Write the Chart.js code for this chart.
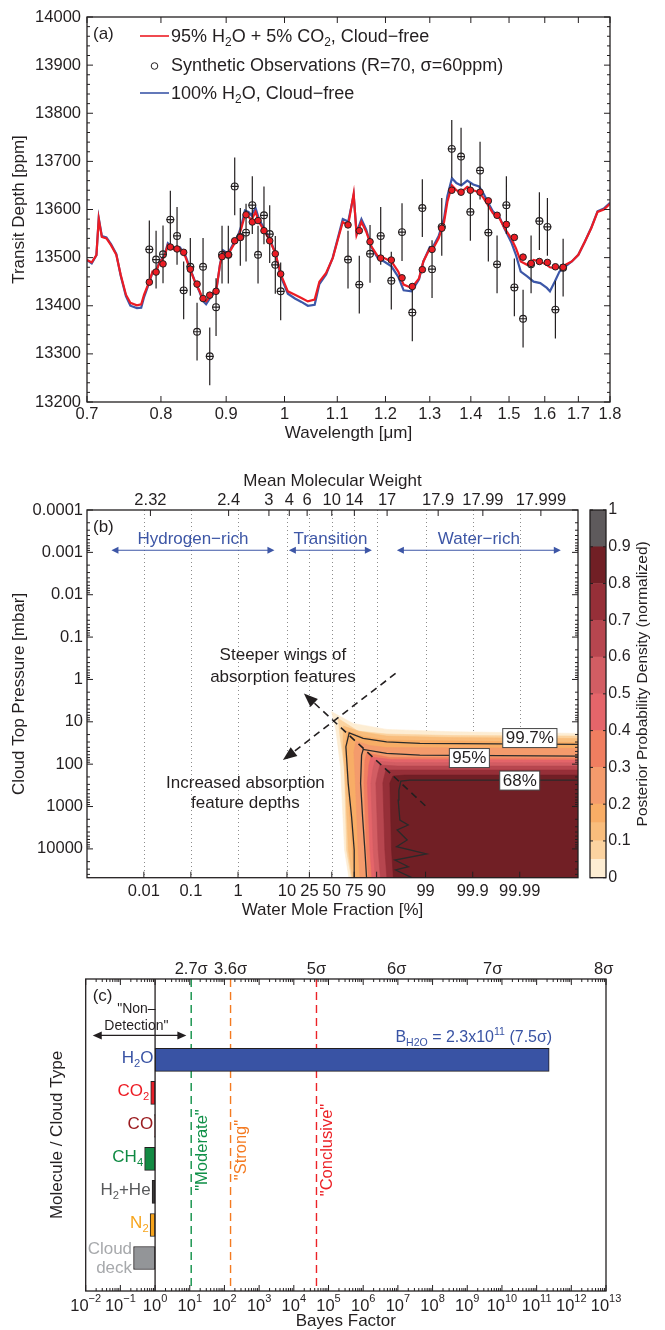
<!DOCTYPE html>
<html>
<head>
<meta charset="utf-8">
<script src="https://cdn.jsdelivr.net/npm/chart.js@4.4.1/dist/chart.umd.min.js"></script>
<style>
  html, body { margin: 0; padding: 0; background: #fff; }
  body { width: 665px; height: 1330px; position: relative; overflow: hidden; }
  .panel { position: absolute; }
</style>
</head>
<body>
<div class="panel" style="left:0;top:0"><canvas id="spectrum" width="665" height="450"></canvas></div>
<div class="panel" style="left:0;top:455px"><canvas id="posterior" width="665" height="470"></canvas></div>
<div class="panel" style="left:588px;top:455px"><canvas id="colorbar" width="77" height="470"></canvas></div>
<div class="panel" style="left:0;top:935px"><canvas id="bayes" width="665" height="395"></canvas></div>
<script>
// ---------- (a) transmission spectrum ----------
const waveTicks = [0.7, 0.8, 0.9, 1.0, 1.1, 1.2, 1.3, 1.4, 1.5, 1.6, 1.7, 1.8];
const waveLabels = ['0.7', '0.8', '0.9', '1', '1.1', '1.2', '1.3', '1.4', '1.5', '1.6', '1.7', '1.8'];
const depthTicks = [13200, 13300, 13400, 13500, 13600, 13700, 13800, 13900, 14000];

const modelWave = [0.700, 0.706, 0.712, 0.715, 0.719, 0.725, 0.731, 0.738, 0.744, 0.751, 0.757, 0.766, 0.772, 0.776, 0.783, 0.788, 0.793, 0.798, 0.805, 0.810, 0.814, 0.820, 0.828, 0.836, 0.843, 0.850, 0.858, 0.863, 0.868, 0.876, 0.884, 0.890, 0.895, 0.903, 0.912, 0.920, 0.925, 0.931, 0.937, 0.942, 0.949, 0.955, 0.964, 0.974, 0.984, 0.993, 1.006, 1.019, 1.031, 1.043, 1.056, 1.065, 1.078, 1.091, 1.101, 1.111, 1.122, 1.133, 1.139, 1.149, 1.159, 1.170, 1.184, 1.197, 1.213, 1.228, 1.240, 1.258, 1.275, 1.285, 1.300, 1.306, 1.321, 1.334, 1.342, 1.353, 1.364, 1.376, 1.391, 1.406, 1.421, 1.433, 1.444, 1.457, 1.475, 1.488, 1.506, 1.519, 1.532, 1.550, 1.568, 1.587, 1.606, 1.615, 1.629, 1.643, 1.661, 1.680, 1.700, 1.720, 1.740, 1.760, 1.780, 1.800];
const modelH2OCO2 = [13495, 13490, 13505, 13580, 13543, 13540, 13526, 13506, 13464, 13423, 13406, 13401, 13403, 13423, 13449, 13471, 13470, 13490, 13502, 13526, 13522, 13516, 13518, 13502, 13476, 13452, 13430, 13413, 13409, 13423, 13433, 13485, 13512, 13506, 13526, 13543, 13561, 13588, 13585, 13578, 13595, 13574, 13556, 13535, 13508, 13466, 13430, 13423, 13416, 13409, 13413, 13450, 13468, 13499, 13537, 13574, 13568, 13633, 13547, 13574, 13554, 13523, 13502, 13499, 13492, 13471, 13444, 13437, 13457, 13492, 13519, 13516, 13540, 13574, 13616, 13650, 13640, 13636, 13647, 13640, 13636, 13623, 13609, 13592, 13581, 13561, 13540, 13519, 13492, 13485, 13495, 13492, 13485, 13480, 13478, 13480, 13485, 13492, 13506, 13533, 13561, 13595, 13600, 13612];
const modelH2O = [13495, 13488, 13505, 13582, 13545, 13542, 13528, 13508, 13462, 13420, 13400, 13395, 13396, 13418, 13447, 13470, 13472, 13492, 13504, 13530, 13525, 13520, 13521, 13505, 13478, 13453, 13428, 13410, 13403, 13420, 13430, 13486, 13515, 13508, 13530, 13548, 13566, 13598, 13595, 13588, 13603, 13580, 13560, 13538, 13508, 13462, 13425, 13415, 13408, 13400, 13402, 13445, 13465, 13500, 13540, 13580, 13575, 13630, 13552, 13580, 13558, 13522, 13498, 13492, 13482, 13460, 13432, 13430, 13455, 13492, 13522, 13520, 13545, 13582, 13628, 13665, 13655, 13650, 13660, 13652, 13648, 13632, 13615, 13596, 13583, 13560, 13532, 13505, 13471, 13461, 13450, 13447, 13437, 13430, 13450, 13471, 13482, 13492, 13506, 13533, 13562, 13596, 13602, 13614];

const obsWave = [0.7834, 0.7930, 0.8030, 0.8137, 0.8236, 0.8335, 0.8436, 0.8539, 0.8632, 0.8737, 0.8837, 0.8933, 0.9035, 0.9140, 0.9233, 0.9329, 0.9435, 0.9533, 0.9636, 0.9736, 0.9835, 0.9931, 1.1215, 1.1446, 1.1670, 1.1897, 1.2127, 1.2364, 1.2596, 1.2826, 1.3053, 1.3284, 1.3526, 1.3755, 1.3988, 1.4235, 1.4450, 1.4679, 1.4928, 1.5145, 1.5385, 1.5609, 1.5845, 1.6076, 1.6310, 1.6539];
const obsDepth = [13517, 13496, 13507, 13579, 13545, 13432, 13481, 13346, 13481, 13295, 13397, 13506, 13506, 13648, 13543, 13552, 13609, 13506, 13588, 13549, 13485, 13430, 13496, 13444, 13508, 13545, 13452, 13553, 13386, 13603, 13476, 13564, 13726, 13710, 13595, 13681, 13552, 13486, 13609, 13438, 13373, 13486, 13576, 13564, 13392, 13479];
const binnedModel = [13449, 13470, 13487, 13522, 13518, 13511, 13476, 13445, 13415, 13422, 13430, 13502, 13506, 13535, 13542, 13589, 13574, 13577, 13556, 13535, 13508, 13466, 13568, 13556, 13533, 13499, 13495, 13458, 13440, 13475, 13517, 13561, 13640, 13636, 13640, 13636, 13618, 13588, 13569, 13542, 13501, 13488, 13492, 13490, 13481, 13480];
const obsSigma = 60;
const resolvingPower = 70;

// ---------- (b) posterior ----------
const waterTicks = [0.01, 0.1, 1, 10, 25, 50, 75, 90, 99, 99.9, 99.99];
const mmwTicks = [2.32, 2.4, 3, 4, 6, 10, 14, 17, 17.9, 17.99, 17.999];
// where each mean-molecular-weight label sits, as log10(H2O/(H2+He))
const mmwTickPos = [-3.86, -2.196, -1.338, -0.905, -0.525, 0.0, 0.48, 1.177, 2.264, 3.215, 4.45];
const pressureTicks = [0.0001, 0.001, 0.01, 0.1, 1, 10, 100, 1000, 10000];
const densityLevels = [0, 0.05, 0.1, 0.15, 0.2, 0.3, 0.4, 0.5, 0.6, 0.7, 0.8, 0.9, 1];
const levelColors = ['#fdedd3', '#fbd3a0', '#f9bd7c', '#f8ad66', '#f49b6c', '#f07e60', '#e4656a', '#d25d63', '#b7464f', '#962f38', '#711f25', '#5e5a5c'];
// contour edges: [log10(H2O/(H2+He)), log10(P/mbar)]
const edge0 = [[0.364, 4.68], [0.272, 4.026], [0.187, 2.061], [0.087, 1.196], [-0.004, 0.764], [0.455, 1.038], [1.166, 1.179], [2.577, 1.236], [5.24, 1.274]];
const edge1 = [[0.417, 4.68], [0.315, 4.026], [0.268, 2.061], [0.172, 1.314], [0.136, 0.92], [0.555, 1.219], [1.166, 1.29], [2.577, 1.325], [5.24, 1.337]];
const edge2 = [[0.438, 4.68], [0.353, 4.026], [0.289, 2.446], [0.236, 1.573], [0.247, 1.101], [0.598, 1.231], [1.166, 1.337], [2.577, 1.373], [5.24, 1.396]];
const edge3 = [[0.481, 4.68], [0.434, 4.026], [0.336, 2.446], [0.285, 1.573], [0.332, 1.219], [0.662, 1.349], [1.166, 1.432], [5.24, 1.491]];
const edge4 = [[0.598, 4.68], [0.562, 4.026], [0.502, 2.446], [0.47, 1.715], [0.513, 1.455], [0.811, 1.561], [1.166, 1.608], [5.24, 1.627]];
const edge5 = [[0.779, 4.68], [0.74, 4.026], [0.683, 2.446], [0.704, 1.903], [0.747, 1.738], [1.236, 1.844], [5.24, 1.856]];
const edge6 = [[0.853, 4.68], [0.811, 4.026], [0.757, 2.446], [0.789, 2.021], [0.832, 1.833], [1.279, 1.892], [5.24, 1.903]];
const edge7 = [[0.928, 4.68], [0.881, 4.026], [0.832, 2.446], [0.874, 2.116], [0.917, 1.927], [1.343, 1.962], [5.24, 1.967]];
const edge8 = [[1.034, 4.68], [0.987, 4.026], [0.938, 2.446], [0.981, 2.21], [1.023, 2.021], [1.406, 2.045], [5.24, 2.045]];
const edge9 = [[1.172, 4.68], [1.13, 4.026], [1.087, 2.446], [1.109, 2.328], [1.151, 2.139], [1.491, 2.139], [5.24, 2.139]];
const edge10 = [[1.311, 4.68], [1.272, 4.026], [1.236, 2.446], [1.3, 2.281], [1.555, 2.257], [5.24, 2.257]];
const contour997 = [[0.491, 4.68], [0.477, 4.026], [0.421, 3.241], [0.349, 2.453], [0.3, 1.59], [0.37, 1.259], [0.668, 1.392], [1.166, 1.472], [1.874, 1.509], [5.24, 1.533]];
const contour95 = [[0.74, 4.68], [0.704, 4.026], [0.655, 3.241], [0.613, 2.453], [0.634, 1.785], [0.668, 1.651], [1.166, 1.745], [1.874, 1.785], [5.24, 1.809]];
const contour68 = [[1.704, 4.68], [1.357, 4.498], [1.63, 4.42], [1.343, 4.262], [2.017, 4.12], [1.379, 3.948], [1.604, 3.79], [1.391, 3.554], [1.626, 3.436], [1.449, 3.318], [1.413, 2.847], [1.428, 2.611], [1.47, 2.399], [1.662, 2.375], [5.24, 2.375]];
const contourLabels = ['99.7%', '95%', '68%'];
const contourLabelX = [4.215, 2.928, 4.0];
const contourLabelLogP = [1.384, 1.856, 2.387];

// ---------- (c) Bayes factors ----------
const species = ['H_2O', 'CO_2', 'CO', 'CH_4', 'H_2+He', 'N_2', 'Cloud deck'];
const bayesFactor = [2.3e11, 0.75, 0.97, 0.5, 0.82, 0.72, 0.24];
const speciesRow = [7, 6, 5, 4, 3, 2, 1];
const sigmaLabels = ['2.7σ', '3.6σ', '5σ', '6σ', '7σ', '8σ'];
const sigmaBayes = [11, 150, 4.5e4, 9.3e6, 5.4e9, 8.6e12];
const thresholdBayes = [11, 150, 4.5e4];
const thresholdNames = ['"Moderate"', '"Strong"', '"Conclusive"'];

const FONT = '"Liberation Sans", Arial, Helvetica, sans-serif';
Chart.defaults.font.family = FONT;
Chart.defaults.font.size = 16.5;
Chart.defaults.color = '#231f20';
Chart.defaults.animation = false;
Chart.defaults.plugins.legend.display = false;
Chart.defaults.plugins.tooltip.enabled = false;

const INK = '#231f20';
const TITLE = { size: 17 };
const logRatio = pct => Math.log10(pct / (100 - pct));

function logMinor(lo, hi) {
  const out = [];
  for (let e = Math.floor(Math.log10(lo)); e <= Math.ceil(Math.log10(hi)); e++) {
    for (let k = 2; k < 10; k++) { const v = k * Math.pow(10, e); if (v > lo && v < hi) out.push(v); }
  }
  return out;
}

// text with _sub and ^sup
function richParts(str) {
  const parts = []; let i = 0, buf = '';
  while (i < str.length) {
    const ch = str[i];
    if ((ch === '_' || ch === '^') && i + 1 < str.length) {
      if (buf) { parts.push({ t: buf, k: 0 }); buf = ''; }
      let t;
      if (str[i + 1] === '{') { const j = str.indexOf('}', i); t = str.slice(i + 2, j); i = j + 1; }
      else { t = str[i + 1]; i += 2; }
      parts.push({ t, k: ch === '_' ? 1 : -1 });
    } else { buf += ch; i++; }
  }
  if (buf) parts.push({ t: buf, k: 0 });
  return parts;
}
function drawRich(ctx, str, x, y, size, align, color) {
  const parts = richParts(str);
  const small = size * 0.66;
  let w = 0;
  parts.forEach(p => { ctx.font = (p.k ? small : size) + 'px ' + FONT; p.w = ctx.measureText(p.t).width; w += p.w; });
  let cx = align === 'right' ? x - w : align === 'center' ? x - w / 2 : x;
  ctx.textBaseline = 'middle'; ctx.textAlign = 'left'; ctx.fillStyle = color;
  parts.forEach(p => {
    ctx.font = (p.k ? small : size) + 'px ' + FONT;
    const dy = p.k === 1 ? size * 0.34 : p.k === -1 ? -size * 0.36 : 0;
    ctx.fillText(p.t, cx, y + dy);
    cx += p.w;
  });
}
function arrowHead(ctx, x1, y1, x2, y2, len, half) {
  const a = Math.atan2(y2 - y1, x2 - x1);
  ctx.beginPath();
  ctx.moveTo(x2, y2);
  ctx.lineTo(x2 - len * Math.cos(a) + half * Math.sin(a), y2 - len * Math.sin(a) - half * Math.cos(a));
  ctx.lineTo(x2 - len * Math.cos(a) - half * Math.sin(a), y2 - len * Math.sin(a) + half * Math.cos(a));
  ctx.closePath(); ctx.fill();
}

// frame + inward tick marks (MATLAB look)
const frameTicks = {
  id: 'frameTicks',
  afterDatasetsDraw(chart, args, opts) {
    const { ctx, chartArea: a } = chart;
    ctx.save();
    ctx.strokeStyle = INK; ctx.lineWidth = 1;
    for (const m of opts.marks || []) {
      const s = chart.scales[m.scale];
      ctx.beginPath();
      for (const v of m.values) {
        const p = s.getPixelForValue(v);
        if (m.side === 'bottom') { ctx.moveTo(p, a.bottom); ctx.lineTo(p, a.bottom - m.len); }
        else if (m.side === 'top') { ctx.moveTo(p, a.top); ctx.lineTo(p, a.top + m.len); }
        else if (m.side === 'left') { ctx.moveTo(a.left, p); ctx.lineTo(a.left + m.len, p); }
        else { ctx.moveTo(a.right, p); ctx.lineTo(a.right - m.len, p); }
      }
      ctx.stroke();
    }
    ctx.lineWidth = 1.3;
    ctx.strokeRect(a.left, a.top, a.right - a.left, a.bottom - a.top);
    ctx.restore();
  }
};

const noGrid = { display: false, drawTicks: false };
const noBorder = { display: false };

// ---------- chart (a) ----------
const errorBars = {
  id: 'errorBars',
  beforeDatasetDraw(chart, args) {
    if (args.index !== 1) return;
    const { ctx } = chart; const xs = chart.scales.x, ys = chart.scales.y;
    ctx.save(); ctx.strokeStyle = INK; ctx.lineWidth = 1.2; ctx.beginPath();
    obsWave.forEach((w, i) => {
      const px = xs.getPixelForValue(w), py = ys.getPixelForValue(obsDepth[i]);
      ctx.moveTo(px, ys.getPixelForValue(obsDepth[i] - obsSigma));
      ctx.lineTo(px, ys.getPixelForValue(obsDepth[i] + obsSigma));
      ctx.moveTo(xs.getPixelForValue(w * (1 - 0.5 / resolvingPower)), py);
      ctx.lineTo(xs.getPixelForValue(w * (1 + 0.5 / resolvingPower)), py);
    });
    ctx.stroke(); ctx.restore();
  }
};
const spectrumLegend = {
  id: 'spectrumLegend',
  afterDatasetsDraw(chart) {
    const { ctx, chartArea: a } = chart;
    ctx.save();
    drawRich(ctx, '(a)', a.left + 6, a.top + 17, 17, 'left', INK);
    const x0 = a.left + 53, x1 = a.left + 82, tx = a.left + 84;
    ctx.lineWidth = 1.6;
    ctx.strokeStyle = '#ec1c24'; ctx.beginPath(); ctx.moveTo(x0, a.top + 19); ctx.lineTo(x1, a.top + 19); ctx.stroke();
    drawRich(ctx, '95% H_2O + 5% CO_2, Cloud−free', tx, a.top + 20, 18, 'left', INK);
    ctx.strokeStyle = INK; ctx.lineWidth = 1; ctx.beginPath(); ctx.arc((x0 + x1) / 2, a.top + 49, 3.3, 0, Math.PI * 2); ctx.stroke();
    drawRich(ctx, 'Synthetic Observations (R=70, σ=60ppm)', tx, a.top + 49.5, 18, 'left', INK);
    ctx.lineWidth = 1.6; ctx.strokeStyle = '#3c57a8'; ctx.beginPath(); ctx.moveTo(x0, a.top + 76); ctx.lineTo(x1, a.top + 76); ctx.stroke();
    drawRich(ctx, '100% H_2O, Cloud−free', tx, a.top + 77, 18, 'left', INK);
    ctx.restore();
  }
};
const minor20 = []; for (let v = 13200; v <= 14000; v += 20) if (v % 100) minor20.push(v);

new Chart(document.getElementById('spectrum'), {
  type: 'scatter',
  data: {
    datasets: [
      { data: obsWave.map((w, i) => ({ x: w, y: binnedModel[i] })), pointRadius: 3.3, pointBackgroundColor: '#ec1c24', pointBorderColor: INK, pointBorderWidth: 1, order: 0 },
      { data: obsWave.map((w, i) => ({ x: w, y: obsDepth[i] })), pointRadius: 3.4, pointBackgroundColor: 'rgba(0,0,0,0)', pointBorderColor: INK, pointBorderWidth: 1.1, order: 1 },
      { data: modelWave.map((w, i) => ({ x: w, y: modelH2OCO2[i] })), showLine: true, borderColor: '#ec1c24', borderWidth: 2.2, pointRadius: 0, order: 2 },
      { data: modelWave.map((w, i) => ({ x: w, y: modelH2O[i] })), showLine: true, borderColor: '#3c57a8', borderWidth: 2.2, pointRadius: 0, order: 3 }
    ]
  },
  options: {
    responsive: false,
    layout: { padding: { left: 0, right: 55, top: 17, bottom: 0 } },
    scales: {
      x: {
        type: 'logarithmic', min: 0.7, max: 1.8,
        afterBuildTicks: s => { s.ticks = waveTicks.map(v => ({ value: v })); },
        ticks: { autoSkip: false, maxRotation: 0, padding: 3, callback: (v, i) => waveLabels[i] },
        grid: noGrid, border: noBorder,
        title: { display: true, text: 'Wavelength [μm]', font: TITLE, padding: { top: 0, bottom: 6.5 } },
        afterFit: s => { s.height = 48; }
      },
      y: {
        type: 'linear', min: 13200, max: 14000,
        afterBuildTicks: s => { s.ticks = depthTicks.map(v => ({ value: v })); },
        ticks: { padding: 6, callback: v => String(v) },
        grid: noGrid, border: noBorder,
        title: { display: true, text: 'Transit Depth [ppm]', font: TITLE, padding: { top: 8.8, bottom: 0 } },
        afterFit: s => { s.width = 87; }
      }
    },
    plugins: {
      frameTicks: { marks: [
        { scale: 'x', side: 'bottom', values: waveTicks, len: 6 },
        { scale: 'x', side: 'top', values: waveTicks, len: 6 },
        { scale: 'y', side: 'left', values: depthTicks, len: 6 },
        { scale: 'y', side: 'right', values: depthTicks, len: 6 },
        { scale: 'y', side: 'left', values: minor20, len: 3 },
        { scale: 'y', side: 'right', values: minor20, len: 3 }
      ] }
    }
  },
  plugins: [errorBars, frameTicks, spectrumLegend]
});

// ---------- chart (b) ----------
const xMin = -5.21, xMax = 5.24, yMaxLog = 4.68;
const edges = [edge0, edge1, edge2, edge3, edge4, edge5, edge6, edge7, edge8, edge9, edge10];
const toPts = arr => arr.map(([lr, lp]) => ({ x: lr, y: Math.pow(10, lp) }));
const bandSets = edges.map((e, k) => ({
  data: toPts(e.concat([[xMax, yMaxLog]])),
  showLine: true, fill: 'shape', backgroundColor: levelColors[k], borderColor: levelColors[k],
  borderWidth: 0.6, pointRadius: 0, order: 100 - k
}));
const lineSets = [contour68, contour95, contour997].map((c, k) => ({
  data: toPts(c), showLine: true, fill: false, borderColor: '#2a2a2a', borderWidth: 1.3, pointRadius: 0, order: k
}));

const posteriorNotes = {
  id: 'posteriorNotes',
  beforeDatasetsDraw(chart) {
    const { ctx, chartArea: a } = chart; const xs = chart.scales.x;
    ctx.save(); ctx.strokeStyle = '#8c8c8c'; ctx.lineWidth = 1; ctx.setLineDash([1, 3]);
    waterTicks.forEach(v => {
      const p = Math.round(xs.getPixelForValue(logRatio(v))) + 0.5;
      ctx.beginPath(); ctx.moveTo(p, a.top); ctx.lineTo(p, a.bottom); ctx.stroke();
    });
    ctx.restore();
  },
  afterDatasetsDraw(chart) {
    const { ctx, chartArea: a } = chart;
    const X = v => chart.scales.x.getPixelForValue(v);
    const Y = lp => chart.scales.y.getPixelForValue(Math.pow(10, lp));
    ctx.save();
    drawRich(ctx, '(b)', a.left + 6, a.top + 17, 17, 'left', INK);
    // regime arrows
    const blue = '#3d56a6';
    const regimeNames = ['Hydrogen−rich', 'Transition', 'Water−rich'];
    const regimeFrom = [-4.69, -0.913, 1.385], regimeTo = [-1.221, 0.853, 4.874];
    ctx.strokeStyle = blue; ctx.fillStyle = blue; ctx.lineWidth = 1.2;
    regimeNames.forEach((n, i) => {
      const y = Y(-3.05), x1 = X(regimeFrom[i]), x2 = X(regimeTo[i]);
      ctx.beginPath(); ctx.moveTo(x1 + 4, y); ctx.lineTo(x2 - 4, y); ctx.stroke();
      arrowHead(ctx, x2, y, x1, y, 7, 3.5); arrowHead(ctx, x1, y, x2, y, 7, 3.5);
      drawRich(ctx, n, (x1 + x2) / 2, y - 11, 17, 'center', blue);
    });
    // dashed arrows
    ctx.strokeStyle = INK; ctx.fillStyle = INK; ctx.lineWidth = 1.6; ctx.setLineDash([7, 5]);
    const wing = [[1.991, 2.981], [-0.594, 0.33]];
    const depth = [[1.357, -0.142], [-1.04, 1.903]];
    [wing, depth].forEach(([p0, p1]) => {
      const x0 = X(p0[0]), y0 = Y(p0[1]), x1 = X(p1[0]), y1 = Y(p1[1]);
      const ang = Math.atan2(y1 - y0, x1 - x0);
      ctx.beginPath(); ctx.moveTo(x0, y0); ctx.lineTo(x1 - 10 * Math.cos(ang), y1 - 10 * Math.sin(ang)); ctx.stroke();
      ctx.setLineDash([]); arrowHead(ctx, x0, y0, x1, y1, 14, 5.5); ctx.setLineDash([7, 5]);
    });
    ctx.setLineDash([]);
    drawRich(ctx, 'Steeper wings of', X(-1.04), Y(-0.573), 17, 'center', INK);
    drawRich(ctx, 'absorption features', X(-1.04), Y(-0.061), 17, 'center', INK);
    drawRich(ctx, 'Increased absorption', X(-1.838), Y(2.453), 17, 'center', INK);
    drawRich(ctx, 'feature depths', X(-1.838), Y(2.925), 17, 'center', INK);
    // contour labels
    contourLabels.forEach((t, i) => {
      const cx = X(contourLabelX[i]), cy = Y(contourLabelLogP[i]);
      ctx.font = '17px ' + FONT;
      const w = ctx.measureText(t).width + 6, h = 19;
      ctx.fillStyle = '#fff'; ctx.fillRect(cx - w / 2, cy - h / 2, w, h);
      ctx.strokeStyle = '#444'; ctx.lineWidth = 1; ctx.strokeRect(cx - w / 2, cy - h / 2, w, h);
      drawRich(ctx, t, cx, cy + 0.5, 17, 'center', INK);
    });
    ctx.restore();
  }
};
const pMinor = logMinor(1e-4, Math.pow(10, yMaxLog));

new Chart(document.getElementById('posterior'), {
  type: 'scatter',
  data: { datasets: lineSets.concat(bandSets) },
  options: {
    responsive: false,
    layout: { padding: { left: 0, right: 87, top: 0, bottom: 0 } },
    scales: {
      x: {
        type: 'linear', position: 'bottom', min: xMin, max: xMax,
        afterBuildTicks: s => { s.ticks = waterTicks.map(v => ({ value: logRatio(v) })); },
        ticks: { autoSkip: false, maxRotation: 0, padding: 4, callback: (v, i) => String(waterTicks[i]) },
        grid: noGrid, border: noBorder,
        title: { display: true, text: 'Water Mole Fraction [%]', font: TITLE, padding: { top: 0, bottom: 4 } },
        afterFit: s => { s.height = 47.3; }
      },
      xTop: {
        type: 'linear', position: 'top', min: xMin, max: xMax,
        afterBuildTicks: s => { s.ticks = mmwTickPos.map(v => ({ value: v })); },
        ticks: { autoSkip: false, maxRotation: 0, padding: 0, callback: (v, i) => String(mmwTicks[i]) },
        grid: noGrid, border: noBorder,
        title: { display: true, text: 'Mean Molecular Weight', font: TITLE, padding: { top: 16.5, bottom: 0 } },
        afterFit: s => { s.height = 55; }
      },
      y: {
        type: 'logarithmic', reverse: true, min: 1e-4, max: Math.pow(10, yMaxLog),
        afterBuildTicks: s => { s.ticks = pressureTicks.map(v => ({ value: v })); },
        ticks: { autoSkip: false, padding: 4, callback: (v, i) => String(pressureTicks[i]) },
        grid: noGrid, border: noBorder,
        title: { display: true, text: 'Cloud Top Pressure [mbar]', font: TITLE, padding: { top: 8.8, bottom: 0 } },
        afterFit: s => { s.width = 87; }
      }
    },
    plugins: {
      frameTicks: { marks: [
        { scale: 'x', side: 'bottom', values: waterTicks.map(logRatio), len: 6 },
        { scale: 'xTop', side: 'top', values: mmwTickPos, len: 6 },
        { scale: 'y', side: 'left', values: pressureTicks, len: 6 },
        { scale: 'y', side: 'right', values: pressureTicks, len: 6 },
        { scale: 'y', side: 'left', values: pMinor, len: 3 },
        { scale: 'y', side: 'right', values: pMinor, len: 3 }
      ] }
    }
  },
  plugins: [posteriorNotes, frameTicks]
});

// colour bar
const colorbarTicks = [0, 0.1, 0.2, 0.3, 0.4, 0.5, 0.6, 0.7, 0.8, 0.9, 1];
const colorbarTitle = {
  id: 'colorbarTitle',
  afterDraw(chart) {
    const { ctx, chartArea: a } = chart;
    ctx.save(); ctx.translate(55, (a.top + a.bottom) / 2 - 10); ctx.rotate(-Math.PI / 2);
    ctx.font = '15.5px ' + FONT; ctx.fillStyle = INK; ctx.textAlign = 'center'; ctx.textBaseline = 'middle';
    ctx.fillText('Posterior Probability Density (normalized)', 0, 0);
    ctx.restore();
  }
};
new Chart(document.getElementById('colorbar'), {
  type: 'bar',
  data: {
    labels: [''],
    datasets: levelColors.map((c, i) => ({
      data: [densityLevels[i + 1] - densityLevels[i]], backgroundColor: c, borderWidth: 0,
      barPercentage: 1, categoryPercentage: 1
    }))
  },
  options: {
    responsive: false,
    layout: { padding: { left: 2, right: 0, top: 55, bottom: 47.3 } },
    scales: {
      x: { stacked: true, display: false },
      y: {
        stacked: true, position: 'right', min: 0, max: 1,
        afterBuildTicks: s => { s.ticks = colorbarTicks.map(v => ({ value: v })); },
        ticks: { autoSkip: false, padding: 2.3, font: { size: 16 }, callback: (v, i) => (i === 0 ? '0' : i === 10 ? '1' : colorbarTicks[i].toFixed(1)) },
        grid: noGrid, border: noBorder,
        afterFit: s => { s.width = 59; }
      }
    },
    plugins: {
      frameTicks: { marks: [
        { scale: 'y', side: 'right', values: colorbarTicks, len: 3 },
        { scale: 'y', side: 'left', values: colorbarTicks, len: 3 }
      ] }
    }
  },
  plugins: [frameTicks, colorbarTitle]
});

// ---------- chart (c) ----------
const barColors = ['#3953a4', '#e8202a', '#8e1b1f', '#138a43', '#3a3a3a', '#f6a31b', '#939598'];
const labelColors = ['#3953a4', '#ed1c24', '#9b1c20', '#0f8a43', '#58595b', '#f7a51c', '#a7a9ac'];
const thresholdColors = ['#109048', '#f47a20', '#ec2227'];
const bayesDecades = []; for (let e = -2; e <= 13; e++) bayesDecades.push(e);

const bayesNotes = {
  id: 'bayesNotes',
  beforeDatasetsDraw(chart) {
    const { ctx, chartArea: a } = chart; const xs = chart.scales.x;
    ctx.save(); ctx.lineWidth = 1.4; ctx.setLineDash([8, 5]);
    thresholdBayes.forEach((b, i) => {
      const p = xs.getPixelForValue(b);
      ctx.strokeStyle = thresholdColors[i];
      ctx.beginPath(); ctx.moveTo(p, a.top); ctx.lineTo(p, a.bottom); ctx.stroke();
    });
    ctx.restore();
  },
  afterDatasetsDraw(chart) {
    const { ctx, chartArea: a } = chart;
    const xs = chart.scales.x, ys = chart.scales.y;
    ctx.save();
    // baseline at B = 1
    const p1 = xs.getPixelForValue(1);
    ctx.strokeStyle = INK; ctx.lineWidth = 1.3;
    ctx.beginPath(); ctx.moveTo(p1, a.top); ctx.lineTo(p1, a.bottom); ctx.stroke();
    // species labels
    species.forEach((s, i) => {
      const xr = xs.getPixelForValue(Math.min(1, bayesFactor[i])) - 1.5;
      const y = ys.getPixelForValue(speciesRow[i]);
      if (s === 'Cloud deck') {
        drawRich(ctx, 'Cloud', xr, y - 9, 17, 'right', labelColors[i]);
        drawRich(ctx, 'deck', xr, y + 10, 17, 'right', labelColors[i]);
      } else {
        drawRich(ctx, s, xr, y - 2, 17, 'right', labelColors[i]);
      }
    });
    // threshold names, rotated
    thresholdBayes.forEach((b, i) => {
      ctx.save();
      ctx.translate(xs.getPixelForValue(b) + 11, ys.getPixelForValue(4.27));
      ctx.rotate(-Math.PI / 2);
      drawRich(ctx, thresholdNames[i], 0, 0, 16.5, 'center', thresholdColors[i]);
      ctx.restore();
    });
    // B_H2O label
    drawRich(ctx, 'B_{H2O} = 2.3x10^{11} (7.5σ)', xs.getPixelForValue(bayesFactor[0]) + 3, ys.getPixelForValue(7.67), 16, 'right', '#3953a4');
    // non-detection
    const nx0 = xs.getPixelForValue(0.016), nx1 = xs.getPixelForValue(8), ny = ys.getPixelForValue(7.74);
    ctx.strokeStyle = INK; ctx.fillStyle = INK; ctx.lineWidth = 1.2;
    ctx.beginPath(); ctx.moveTo(nx0 + 4, ny); ctx.lineTo(nx1 - 4, ny); ctx.stroke();
    arrowHead(ctx, nx1, ny, nx0, ny, 9, 4); arrowHead(ctx, nx0, ny, nx1, ny, 9, 4);
    const nc = xs.getPixelForValue(0.29);
    drawRich(ctx, '"Non–', nc, ys.getPixelForValue(8.54), 14, 'center', INK);
    drawRich(ctx, 'Detection"', nc, ys.getPixelForValue(8.03), 14, 'center', INK);
    drawRich(ctx, '(c)', a.left + 7, a.top + 17, 17, 'left', INK);
    // bottom decade labels
    bayesDecades.forEach(e => {
      const px = xs.getPixelForValue(Math.pow(10, e));
      const exp = String(e).replace('-', '−');
      ctx.font = '16.5px ' + FONT; const w1 = ctx.measureText('10').width;
      ctx.font = '11px ' + FONT; const w2 = ctx.measureText(exp).width;
      const x0 = px - (w1 + w2) / 2;
      drawRich(ctx, '10', x0, a.bottom + 15, 16.5, 'left', INK);
      ctx.font = '11px ' + FONT; ctx.fillStyle = INK; ctx.textBaseline = 'middle'; ctx.textAlign = 'left';
      ctx.fillText(exp, x0 + w1, a.bottom + 8);
    });
    ctx.restore();
  }
};
const bMinor = logMinor(1e-2, 1e13);
const bMajor = bayesDecades.map(e => Math.pow(10, e));

new Chart(document.getElementById('bayes'), {
  type: 'bar',
  data: {
    datasets: [{
      data: species.map((s, i) => ({ x: [Math.min(1, bayesFactor[i]), Math.max(1, bayesFactor[i])], y: speciesRow[i] })),
      backgroundColor: barColors, borderColor: INK, borderWidth: 1, borderSkipped: false, barThickness: 23
    }]
  },
  options: {
    indexAxis: 'y',
    responsive: false,
    layout: { padding: { left: 0, right: 59, top: 0, bottom: 0 } },
    scales: {
      x: {
        type: 'logarithmic', min: 1e-2, max: 1e13,
        ticks: { display: false }, grid: noGrid, border: noBorder,
        title: { display: true, text: 'Bayes Factor', font: { size: 17, lineHeight: 1 }, padding: { top: 0, bottom: 0 } },
        afterFit: s => { s.height = 39; }
      },
      xTop: {
        type: 'logarithmic', position: 'top', min: 1e-2, max: 1e13,
        afterBuildTicks: s => { s.ticks = sigmaBayes.map(v => ({ value: v })); },
        ticks: { autoSkip: false, maxRotation: 0, padding: 0, callback: (v, i) => sigmaLabels[i] },
        grid: noGrid, border: noBorder,
        afterFit: s => { s.height = 44; }
      },
      y: {
        type: 'linear', min: 0, max: 9.45, offset: false,
        ticks: { display: false }, grid: { display: false, drawTicks: false, offset: false }, border: noBorder,
        title: { display: true, text: 'Molecule / Cloud Type', font: TITLE, padding: { top: 46.8, bottom: 0 } },
        afterFit: s => { s.width = 85.7; }
      }
    },
    plugins: {
      frameTicks: { marks: [
        { scale: 'x', side: 'bottom', values: bMajor, len: 6 },
        { scale: 'x', side: 'bottom', values: bMinor, len: 3 },
        { scale: 'x', side: 'top', values: bMajor, len: 6 },
        { scale: 'x', side: 'top', values: bMinor, len: 3 }
      ] }
    }
  },
  plugins: [bayesNotes, frameTicks]
});
</script>
</body>
</html>
